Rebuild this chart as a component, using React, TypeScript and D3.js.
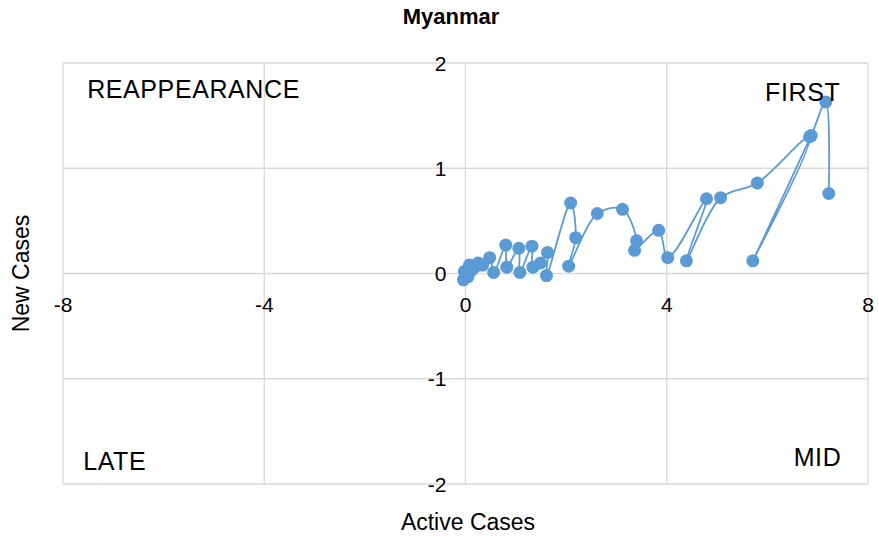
import React from "react";
import * as d3 from "d3";

// chart data
const activeCases = [
  0.0, -0.04, 0.03, -0.02, 0.08, 0.12, 0.05, 0.18, 0.25, 0.34, 0.48, 0.56, 0.8, 0.82,
  1.06, 1.08, 1.32, 1.34, 1.49, 1.63, 1.61, 2.09, 2.19, 2.05, 2.62, 3.12, 3.4, 3.36,
  3.84, 4.02, 4.79, 4.39, 5.07, 5.8, 6.84, 5.71, 6.87, 7.16, 7.22,
];
const newCases = [
  0.0, -0.06, 0.03, 0.02, 0.08, 0.03, -0.03, 0.06, 0.1, 0.08, 0.15, 0.01, 0.27, 0.06,
  0.24, 0.01, 0.26, 0.06, 0.1, 0.2, -0.02, 0.67, 0.34, 0.07, 0.57, 0.61, 0.31, 0.22,
  0.41, 0.15, 0.71, 0.12, 0.72, 0.86, 1.3, 0.12, 1.31, 1.63, 0.76,
];
const xTicks = [-8, -4, 0, 4, 8];
const yTicks = [-2, -1, 0, 1, 2];
const quadrants = [
  { label: "REAPPEARANCE", x: -7.52, y: 1.75, anchor: "start" },
  { label: "FIRST", x: 7.45, y: 1.72, anchor: "end" },
  { label: "LATE", x: -7.6, y: -1.78, anchor: "start" },
  { label: "MID", x: 7.47, y: -1.74, anchor: "end" },
];

const W = 879;
const H = 543;
const left = 63;
const right = 868;
const top = 63;
const bottom = 484;
const font = "Arial, 'Liberation Sans', sans-serif";
const grid = "#d9d9d9";
const blue = "#5b9bd5";

export default function App() {
  const x = d3.scaleLinear().domain([-8, 8]).range([left, right]);
  const y = d3.scaleLinear().domain([-2, 2]).range([bottom, top]);

  const pts: [number, number][] = activeCases.map((a, i) => [a, newCases[i]]);
  const line = d3
    .line<[number, number]>()
    .x((d) => x(d[0]))
    .y((d) => y(d[1]))
    .curve(d3.curveCatmullRom.alpha(0.5));

  return (
    <svg width={W} height={H} style={{ position: "absolute", left: 0, top: 0 }}>
      <rect width={W} height={H} fill="#fff" />
      {/* grid */}
      {xTicks.map((t) => (
        <line key={"gx" + t} x1={x(t)} x2={x(t)} y1={top} y2={bottom} stroke={grid} strokeWidth={1.3} />
      ))}
      {yTicks.map((t) => (
        <line key={"gy" + t} x1={left} x2={right} y1={y(t)} y2={y(t)} stroke={grid} strokeWidth={1.3} />
      ))}

      {/* tick labels */}
      {xTicks.map((t) => (
        <text key={"tx" + t} x={x(t)} y={y(0) + 38} textAnchor="middle" fontFamily={font} fontSize={21}>
          {t}
        </text>
      ))}
      {yTicks.map((t) => (
        <text key={"ty" + t} x={x(0) - 19} y={y(t) + 7.5} textAnchor="end" fontFamily={font} fontSize={21}>
          {t}
        </text>
      ))}

      {/* series */}
      <path d={line(pts) || ""} fill="none" stroke={blue} strokeWidth={1.8} />
      {pts.map((d, i) => (
        <circle key={i} cx={x(d[0])} cy={y(d[1])} r={6.5} fill={blue} />
      ))}

      {/* quadrant labels */}
      {quadrants.map((q) => (
        <text key={q.label} x={x(q.x)} y={y(q.y) + 9} textAnchor={q.anchor as any} fontFamily={font} fontSize={25} letterSpacing={0.6}>
          {q.label}
        </text>
      ))}

      {/* titles */}
      <text x={451} y={24} textAnchor="middle" fontFamily={font} fontSize={22} fontWeight="bold">
        Myanmar
      </text>
      <text x={468} y={530} textAnchor="middle" fontFamily={font} fontSize={23}>
        Active Cases
      </text>
      <text
        transform={`translate(29, ${y(0)}) rotate(-90)`}
        textAnchor="middle"
        fontFamily={font}
        fontSize={23}
      >
        New Cases
      </text>
    </svg>
  );
}
